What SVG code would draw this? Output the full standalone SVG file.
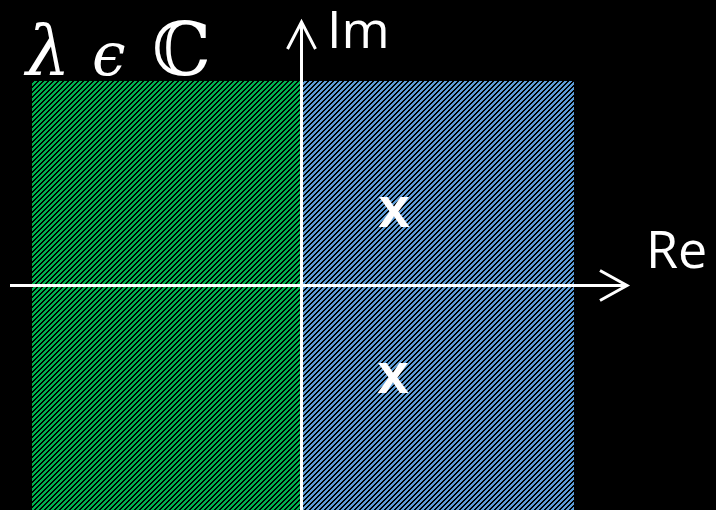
<svg xmlns="http://www.w3.org/2000/svg" width="716" height="510" viewBox="0 0 716 510">
<defs>
<pattern id="pg" patternUnits="userSpaceOnUse" width="5" height="5">
<rect width="5" height="5" fill="#000"/>
<path d="M0,0h3v1h-3z M0,1h2v1h-2z M4,1h1v1h-1z M0,2h1v1h-1z M3,2h2v1h-2z M2,3h3v1h-3z M1,4h3v1h-3z" fill="#00b050" shape-rendering="crispEdges"/>
</pattern>
<pattern id="pb" patternUnits="userSpaceOnUse" width="5" height="5">
<rect width="5" height="5" fill="#000"/>
<path d="M0,0h3v1h-3z M0,1h2v1h-2z M4,1h1v1h-1z M0,2h1v1h-1z M3,2h2v1h-2z M2,3h3v1h-3z M1,4h3v1h-3z" fill="#5b9bd5" shape-rendering="crispEdges"/>
</pattern>
<style>
.ax{stroke:#fff;stroke-width:3;fill:none}
.lbl{fill:#fff;font-family:"Open Sans","Liberation Sans",sans-serif;font-size:52px}
.mk{fill:#fff;font-family:"Liberation Sans",sans-serif;font-weight:bold;font-size:57px;text-anchor:middle}
.math{fill:#fff;font-family:"DejaVu Serif","Liberation Serif",serif}
</style>
</defs>
<rect width="716" height="510" fill="#000"/>
<g id="left-half-plane"><rect x="32" y="81" width="269" height="429" fill="url(#pg)"/></g>
<g id="right-half-plane"><rect x="302" y="81" width="272" height="429" fill="url(#pb)"/></g>
<g id="eigen-upper"><text class="mk" x="394" y="227">x</text></g>
<g id="eigen-lower"><text class="mk" x="393" y="393">x</text></g>
<g id="connectors">
<line class="ax" x1="301.5" y1="22" x2="301.5" y2="510"/>
<polyline class="ax" points="287.5,49 301.5,22 315.5,49"/>
<line class="ax" x1="10" y1="285.5" x2="627" y2="285.5"/>
<polyline class="ax" points="600,270.5 627,285.5 600,300.5"/>
</g>
<g id="label-im"><text class="lbl" x="327" y="48">Im</text></g>
<g id="label-re"><text class="lbl" x="646" y="268">Re</text></g>
<g id="label-lambda">
<text class="math" x="26" y="75" font-size="70" font-style="italic">λ</text>
<text class="math" x="92" y="75" font-size="60" font-style="italic">ϵ</text>
<text class="math" x="152" y="75" font-size="74">ℂ</text>
</g>
</svg>
